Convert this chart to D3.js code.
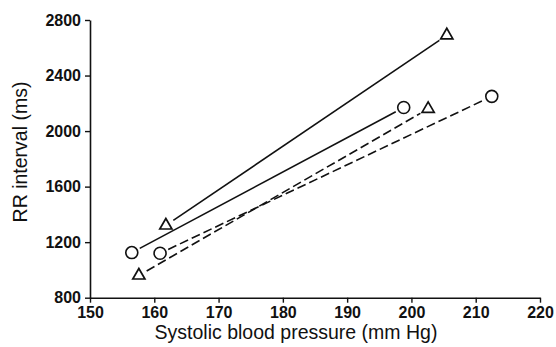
<!DOCTYPE html>
<html>
<head>
<meta charset="utf-8">
<script src="https://cdn.jsdelivr.net/npm/d3@7"></script>
<style>
  body { margin: 0; background: #fff; }
  svg text { font-family: "Liberation Sans", Arial, sans-serif; fill: #111; }
</style>
</head>
<body>
<svg id="chart" width="556" height="347"></svg>
<script>
// values
var xTicks = [150, 160, 170, 180, 190, 200, 210, 220]
var yTicks = [800, 1200, 1600, 2000, 2400, 2800]

// each line: [low, high] as [systolic, RR]
var solidTriangle = [[161.8, 1320], [205.5, 2690]]
var solidCircle   = [[156.5, 1125], [198.8, 2170]]
var dashedCircle  = [[160.9, 1120], [212.5, 2250]]
var dashedTriangle = [[157.6, 960], [202.6, 2160]]

var lines = [
  { pts: solidTriangle, marker: 'triangle', dash: null },
  { pts: solidCircle, marker: 'circle', dash: null },
  { pts: dashedCircle, marker: 'circle', dash: '9,4' },
  { pts: dashedTriangle, marker: 'triangle', dash: '9,4' }
]

var svg = d3.select('#chart')
var x = d3.scaleLinear().domain([150, 220]).range([90, 540])
var y = d3.scaleLinear().domain([800, 2800]).range([297.7, 20])

// axes
var xAxis = svg.append('g').attr('transform', 'translate(0,297.7)')
  .call(d3.axisBottom(x).tickValues(xTicks).tickFormat(d3.format('d'))
    .tickSize(5).tickPadding(4).tickSizeOuter(0))
var yAxis = svg.append('g').attr('transform', 'translate(90,0)')
  .call(d3.axisLeft(y).tickValues(yTicks).tickFormat(d3.format('d'))
    .tickSize(5).tickPadding(4).tickSizeOuter(0))

;[xAxis, yAxis].forEach(function(a){
  a.select('.domain').attr('stroke', '#111').attr('stroke-width', 1.6)
  a.selectAll('.tick line').attr('stroke', '#111').attr('stroke-width', 1.4)
  a.selectAll('.tick text')
    .attr('font-size', '16px')
    .attr('font-weight', 'bold')
    .attr('fill', '#111')
    .attr('font-family', '"Liberation Sans", Arial, sans-serif')
})

// axis titles
svg.append('text')
  .attr('x', 296).attr('y', 339)
  .attr('text-anchor', 'middle')
  .attr('font-size', '19.5px')
  .text('Systolic blood pressure (mm Hg)')

svg.append('text')
  .attr('transform', 'translate(27,152) rotate(-90)')
  .attr('text-anchor', 'middle')
  .attr('font-size', '19.5px')
  .text('RR interval (ms)')

// connecting lines, cut short near the markers
var gap = 9
lines.forEach(function(l){
  var x1 = x(l.pts[0][0]), y1 = y(l.pts[0][1])
  var x2 = x(l.pts[1][0]), y2 = y(l.pts[1][1])
  var len = Math.sqrt((x2-x1)*(x2-x1) + (y2-y1)*(y2-y1))
  var ux = (x2-x1)/len, uy = (y2-y1)/len
  svg.append('line')
    .attr('x1', x1 + ux*gap).attr('y1', y1 + uy*gap)
    .attr('x2', x2 - ux*gap).attr('y2', y2 - uy*gap)
    .attr('stroke', '#111')
    .attr('stroke-width', 1.6)
    .attr('stroke-dasharray', l.dash)
})

// markers
var tri = d3.symbol().type(d3.symbolTriangle).size(64)
lines.forEach(function(l){
  l.pts.forEach(function(p){
    if(l.marker == 'circle'){
      svg.append('circle')
        .attr('cx', x(p[0])).attr('cy', y(p[1])).attr('r', 6)
        .attr('fill', 'none').attr('stroke', '#111').attr('stroke-width', 1.6)
    } else {
      svg.append('path')
        .attr('d', tri)
        .attr('transform', 'translate(' + x(p[0]) + ',' + y(p[1]) + ')')
        .attr('fill', 'none').attr('stroke', '#111').attr('stroke-width', 1.7)
    }
  })
})
</script>
</body>
</html>
